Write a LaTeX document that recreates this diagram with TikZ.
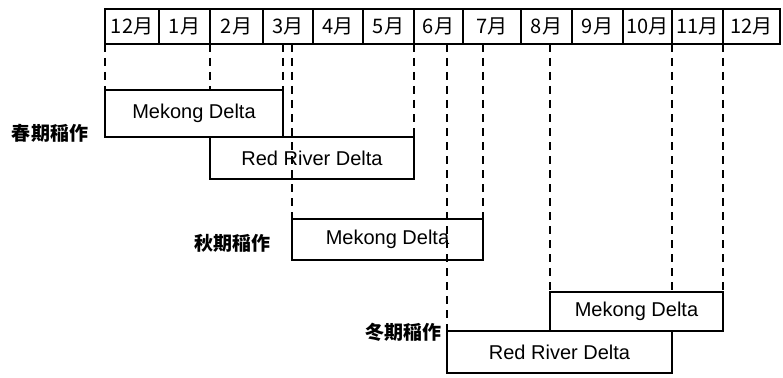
\documentclass[tikz,border=0pt]{standalone}
\usepackage{fontspec}
\setmainfont{Liberation Sans}
\newfontfamily\cjk{Noto Sans CJK JP}
\usetikzlibrary{backgrounds}
\begin{document}
\begin{tikzpicture}[x=1pt,y=-1pt,
  box/.style={draw, line width=1.3pt, inner sep=0pt, outer sep=0pt, anchor=north west, font=\fontsize{20}{22}\selectfont},
  mon/.style={draw, line width=1.5pt, inner sep=0pt, outer sep=0pt, anchor=north west, minimum height=35pt, font=\cjk\fontsize{20}{22}\selectfont},
  guide/.style={line width=1.8pt, dash pattern=on 8pt off 6pt},
  lab/.style={font=\cjk\bfseries\fontsize{19}{21}\selectfont}]
\useasboundingbox (0,0) rectangle (783,377);
% month header
\foreach \i/\a/\b/\t in {0/105/159/12月,1/159/210/1月,2/210/263/2月,3/263/313/3月,4/313/363/4月,5/363/414/5月,6/414/463/6月,7/463/521/7月,8/521/572/8月,9/572/623/9月,10/623/672/10月,11/672/723/11月,12/723/780/12月}
  \node[mon, minimum width={\b pt-\a pt}] (m\i) at (\a,9) {\t};
% season boxes
\node[box, minimum width=178pt, minimum height=47pt] (sm) at (105,90) {Mekong Delta};
\node[box, minimum width=204pt, minimum height=42pt] (sr) at (210,137) {Red River Delta};
\node[box, minimum width=191pt, minimum height=41pt] (am) at (292,219) {Mekong Delta};
\node[box, minimum width=173pt, minimum height=39pt] (wm) at (550,292) {Mekong Delta};
\node[box, minimum width=225pt, minimum height=42pt] (wr) at (447,331) {Red River Delta};
% labels
\node[lab] (l1) at (50,133) {春期稲作};
\node[lab] (l2) at (232,243) {秋期稲作};
\node[lab] (l3) at (403,332) {冬期稲作};
% guide lines
\begin{scope}[on background layer]
\draw[guide] (m0.south west) -- (sm.north west);
\draw[guide] (m2.south west) -- (m2.south west |- sm.north);
\draw[guide] (sm.north east |- m3.south) -- (sm.north east);
\draw[guide] (am.north west |- m3.south) -- (am.north west);
\draw[guide] (m6.south west) -- (sr.north east);
\draw[guide] (wr.north west |- m6.south) -- (wr.north west);
\draw[guide] (am.north east |- m7.south) -- (am.north east);
\draw[guide] (wm.north west |- m8.south) -- (wm.north west);
\draw[guide] (m11.south west) -- (m11.south west |- wm.north);
\draw[guide] (m12.south west) -- (wm.north east);
\end{scope}
\end{tikzpicture}
\end{document}
